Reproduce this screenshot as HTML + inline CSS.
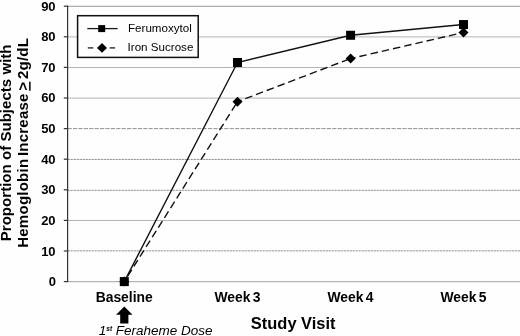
<!DOCTYPE html>
<html><head><meta charset="utf-8">
<style>
html,body{margin:0;padding:0;background:#fff;}
body{width:520px;height:336px;overflow:hidden;}
svg{display:block;}
text{font-family:"Liberation Sans",sans-serif;fill:#000;}
.b{font-weight:bold;}
</style></head><body>
<svg width="520" height="336" viewBox="0 0 520 336">
<rect width="520" height="336" fill="#fefefe"/>
<line x1="67.6" x2="520" y1="281.70" y2="281.70" stroke="#b4b4b4" stroke-width="1.2"/>
<line x1="67.6" x2="520" y1="250.85" y2="250.85" stroke="#7a7a7a" stroke-width="0.85" stroke-dasharray="2.2 0.8"/>
<line x1="67.6" x2="520" y1="220.50" y2="220.50" stroke="#b4b4b4" stroke-width="1"/>
<line x1="67.6" x2="520" y1="190.30" y2="190.30" stroke="#7a7a7a" stroke-width="0.85" stroke-dasharray="2.2 0.8"/>
<line x1="67.6" x2="520" y1="159.45" y2="159.45" stroke="#7a7a7a" stroke-width="0.85" stroke-dasharray="2.2 0.8"/>
<line x1="67.6" x2="520" y1="128.60" y2="128.60" stroke="#808080" stroke-width="0.85" stroke-dasharray="4.2 1.2"/>
<line x1="67.6" x2="520" y1="98.10" y2="98.10" stroke="#b4b4b4" stroke-width="1"/>
<line x1="67.6" x2="520" y1="67.50" y2="67.50" stroke="#b4b4b4" stroke-width="1"/>
<line x1="67.6" x2="520" y1="36.90" y2="36.90" stroke="#b4b4b4" stroke-width="1"/>
<line x1="67.6" x2="520" y1="6.45" y2="6.45" stroke="#adadad" stroke-width="1.3"/>
<g stroke="#333" stroke-width="1.2">
<line x1="67.6" x2="67.6" y1="5.7" y2="282.1"/>
<line x1="63.8" x2="68.1" y1="281.60" y2="281.60"/>
<line x1="63.8" x2="68.1" y1="251.00" y2="251.00"/>
<line x1="63.8" x2="68.1" y1="220.40" y2="220.40"/>
<line x1="63.8" x2="68.1" y1="189.80" y2="189.80"/>
<line x1="63.8" x2="68.1" y1="159.20" y2="159.20"/>
<line x1="63.8" x2="68.1" y1="128.60" y2="128.60"/>
<line x1="63.8" x2="68.1" y1="98.00" y2="98.00"/>
<line x1="63.8" x2="68.1" y1="67.40" y2="67.40"/>
<line x1="63.8" x2="68.1" y1="36.80" y2="36.80"/>
<line x1="63.8" x2="68.1" y1="6.20" y2="6.20"/>
</g>
<g class="b" font-size="13" text-anchor="end">
<text x="55.9" y="285.60">0</text>
<text x="55.6" y="255.75">10</text>
<text x="55.6" y="224.85">20</text>
<text x="55.6" y="194.25">30</text>
<text x="55.6" y="163.65">40</text>
<text x="55.6" y="133.05">50</text>
<text x="55.6" y="102.45">60</text>
<text x="55.6" y="71.85">70</text>
<text x="55.6" y="41.25">80</text>
<text x="55.6" y="10.65">90</text>
</g>
<line x1="124.3" y1="281.60" x2="237.5" y2="101.67" stroke="#111" stroke-width="1.4" stroke-dasharray="7.5 4" stroke-dashoffset="5.1"/>
<line x1="237.5" y1="101.67" x2="350.6" y2="58.53" stroke="#111" stroke-width="1.4" stroke-dasharray="7.5 4" stroke-dashoffset="3.2"/>
<line x1="350.6" y1="58.53" x2="463.5" y2="32.52" stroke="#111" stroke-width="1.4" stroke-dasharray="7.5 4" stroke-dashoffset="2.5"/>
<polyline fill="none" stroke="#111" stroke-width="1.4" points="124.3,281.60 237.5,62.50 350.6,35.27 463.5,24.56"/>
<g fill="#000">
<path d="M124.3 276.60 L129.3 281.60 L124.3 286.60 L119.3 281.60z"/>
<path d="M237.5 96.67 L242.5 101.67 L237.5 106.67 L232.5 101.67z"/>
<path d="M350.6 53.53 L355.6 58.53 L350.6 63.53 L345.6 58.53z"/>
<path d="M463.5 27.52 L468.5 32.52 L463.5 37.52 L458.5 32.52z"/>
<rect x="119.8" y="277.10" width="9.0" height="9.0"/>
<rect x="233.0" y="58.00" width="9.0" height="9.0"/>
<rect x="346.1" y="30.77" width="9.0" height="9.0"/>
<rect x="459.0" y="20.06" width="9.0" height="9.0"/>
</g>
<rect x="77.600" y="15.700" width="120.600" height="41.700" fill="#fefefe" stroke="#111" stroke-width="1.5"/>
<line x1="87.300" x2="117.600" y1="28.600" y2="28.600" stroke="#1a1a1a" stroke-width="1.3"/>
<rect x="98.200" y="25.100" width="7" height="7" fill="#000"/>
<line x1="87.800" x2="93.300" y1="47.900" y2="47.900" stroke="#1a1a1a" stroke-width="1.3"/>
<line x1="109.700" x2="115.100" y1="47.900" y2="47.900" stroke="#1a1a1a" stroke-width="1.3"/>
<path d="M102 43 l5 4.900 -5 4.900 -5 -4.900z" fill="#000"/>
<text x="128" y="32.100" font-size="11.600">Ferumoxytol</text>
<text x="127.600" y="51" font-size="11.600">Iron Sucrose</text>
<g class="b" font-size="13.900" text-anchor="middle" word-spacing="-1.5">
<text x="124.200" y="302.100">Baseline</text>
<text x="237.500" y="302.100">Week 3</text>
<text x="350.500" y="302.100">Week 4</text>
<text x="463.500" y="302.100">Week 5</text>
</g>
<text class="b" x="293.200" y="329.400" font-size="16.450" text-anchor="middle">Study Visit</text>
<path d="M124.300 306.400 L132.500 314.700 L128.400 314.700 L128.400 323.400 L120.200 323.400 L120.200 314.700 L116.100 314.700z" fill="#000"/>
<text x="98.800" y="335" font-size="13" font-style="italic" textLength="113.800" lengthAdjust="spacingAndGlyphs">1<tspan font-size="6.300" dy="-3.800" font-weight="bold">st</tspan><tspan dy="3.800"> Feraheme Dose</tspan></text>
<g class="b" font-size="15.080" text-anchor="middle">
<text transform="translate(11.100,142.850) rotate(-90)">Proportion of Subjects with</text>
<text transform="translate(28.100,142.850) rotate(-90)" word-spacing="-1.8" letter-spacing="0.2">Hemoglobin Increase <tspan text-decoration="underline">&gt;</tspan> 2g/dL</text>
</g>
</svg>
</body></html>
